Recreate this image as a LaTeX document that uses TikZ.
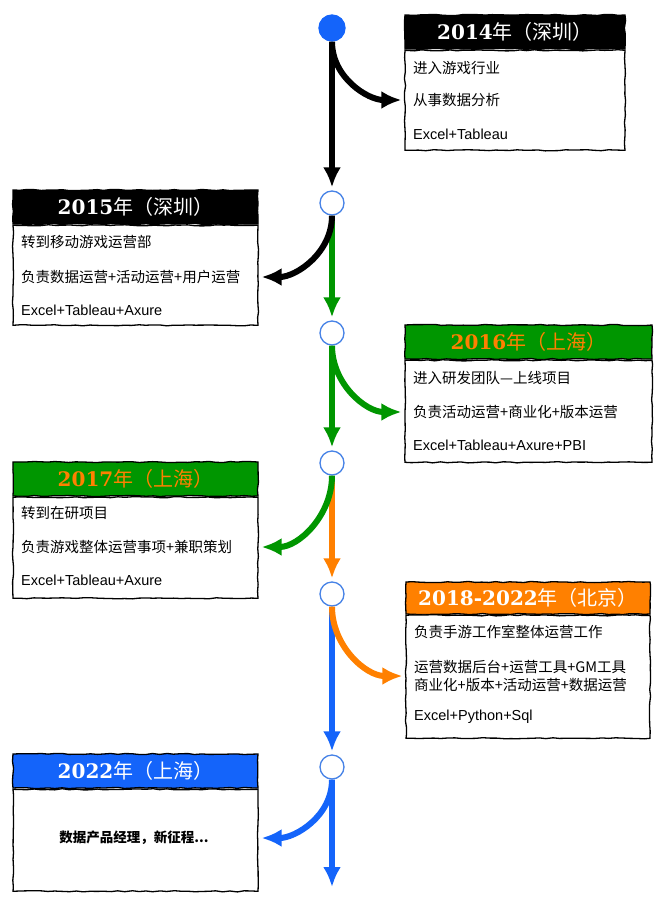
\documentclass[tikz,border=0pt]{standalone}
\usepackage{fontspec}
\setmainfont{Liberation Sans}
\newfontfamily\cjk{Noto Sans CJK SC}
\newfontfamily\yr{DejaVu Serif}
\usetikzlibrary{arrows.meta,positioning,decorations.pathmorphing}

\definecolor{eragreen}{RGB}{0,150,0}
\definecolor{eraorange}{RGB}{255,128,0}
\definecolor{erablue}{RGB}{20,100,250}
\definecolor{ring}{RGB}{70,130,230}

\newcommand\yhead[2]{{\yr\bfseries\fontsize{20}{24}\selectfont #1}{\cjk\fontsize{20}{22}\selectfont #2}}

\begin{document}
\begin{tikzpicture}[x=1pt, y=-1pt,
	every node/.style={font=\cjk\fontsize{14.5}{18}\selectfont},
	>={Latex[length=20pt,width=18pt]},
	rough/.style={decorate, decoration={random steps, segment length=7pt, amplitude=0.6pt}},
	head/.style={rough, draw=black, line width=1.3pt, minimum height=34pt, inner sep=0pt, font=\relax},
	card/.style={rough, draw=black, line width=1.3pt, fill=white, inner sep=0pt},
	txt/.style={anchor=west, inner sep=0pt},
	tool/.style={txt, font=\rmfamily\fontsize{14.5}{18}\selectfont},
	dot/.style={circle, draw=ring, line width=1.3pt, fill=white, minimum size=24pt, inner sep=0pt},
	link/.style={->, line width=6pt, shorten >=3pt}]
	\pgfmathsetseed{7}
	\useasboundingbox (0,0) rectangle (666,910);
	% timeline points
	\node[dot, fill=erablue, draw=erablue, minimum size=26pt] (c1) at (332,28) {};
	\node[dot] (c2) at (332,203) {};
	\node[dot] (c3) at (332,333) {};
	\node[dot] (c4) at (332,463) {};
	\node[dot] (c5) at (332,594) {};
	\node[dot] (c6) at (332,767) {};
	\coordinate (tail) at (332,890);
	% 2014
	\node[head, fill=black, text=white, minimum width=220pt] (h14) at (515,32) {\yhead{2014}{年（深圳）}};
	\node[card, minimum width=220pt, minimum height=100pt, below=0pt of h14] (b14) {};
	\node[txt] (t14a) at (413,68) {进入游戏行业};
	\node[txt] (t14b) at (413,100) {从事数据分析};
	\node[tool] (t14c) at (413,134) {Excel+Tableau};
	% 2015
	\node[head, fill=black, text=white, minimum width=245pt] (h15) at (135.5,207) {\yhead{2015}{年（深圳）}};
	\node[card, minimum width=245pt, minimum height=100pt, below=0pt of h15] (b15) {};
	\node[txt] (t15a) at (21,242) {转到移动游戏运营部};
	\node[txt] (t15b) at (21,277) {负责数据运营+活动运营+用户运营};
	\node[tool] (t15c) at (21,310) {Excel+Tableau+Axure};
	% 2016
	\node[head, fill=eragreen, text=eraorange, minimum width=247pt] (h16) at (528.5,342) {\yhead{2016}{年（上海）}};
	\node[card, minimum width=247pt, minimum height=102pt, below=0pt of h16] (b16) {};
	\node[txt] (t16a) at (413,378) {进入研发团队—上线项目};
	\node[txt] (t16b) at (413,412) {负责活动运营+商业化+版本运营};
	\node[tool] (t16c) at (413,445) {Excel+Tableau+Axure+PBI};
	% 2017
	\node[head, fill=eragreen, text=eraorange, minimum width=245pt] (h17) at (135.5,479) {\yhead{2017}{年（上海）}};
	\node[card, minimum width=245pt, minimum height=101pt, below=0pt of h17] (b17) {};
	\node[txt] (t17a) at (21,513) {转到在研项目};
	\node[txt] (t17b) at (21,547) {负责游戏整体运营事项+兼职策划};
	\node[tool] (t17c) at (21,580) {Excel+Tableau+Axure};
	% 2018-2022
	\node[head, fill=eraorange, text=white, minimum width=244pt, minimum height=32pt] (h18) at (528,598) {\yhead{2018-2022}{年（北京）}};
	\node[card, minimum width=244pt, minimum height=123pt, below=0pt of h18] (b18) {};
	\node[txt] (t18a) at (414,632) {负责手游工作室整体运营工作};
	\node[txt, align=left] (t18b) at (414,676) {运营数据后台+运营工具+GM工具\\商业化+版本+活动运营+数据运营};
	\node[tool] (t18c) at (414,717) {Excel+Python+Sql};
	% 2022
	\node[head, fill=erablue, text=white, minimum width=245pt] (h22) at (135.5,771) {\yhead{2022}{年（上海）}};
	\node[card, minimum width=245pt, minimum height=102pt, below=0pt of h22] (b22) {};
	\node[font=\cjk\bfseries\fontsize{13.5}{16}\selectfont] (t22) at (134,838) {数据产品经理，新征程...};
	% timeline and branches
	\draw[link, black] (c1) -- (c2);
	\draw[link, black] (c1.south) to[out=-90, in=180] (b14.west |- t14b);
	\draw[link, eragreen] (c2) -- (c3);
	\draw[link, black] (c2.south) to[out=-90, in=0] (b15.east |- t15b);
	\draw[link, eragreen] (c3) -- (c4);
	\draw[link, eragreen] (c3.south) to[out=-90, in=180] (b16.west |- t16b);
	\draw[link, eraorange] (c4) -- (c5);
	\draw[link, eragreen] (c4.south) to[out=-90, in=0] (b17.east |- t17b);
	\draw[link, erablue] (c5) -- (c6);
	\draw[link, eraorange] (c5.south) to[out=-90, in=180] (b18.west |- t18b);
	\draw[link, erablue] (c6) -- (tail);
	\draw[link, erablue] (c6.south) to[out=-90, in=0] (b22.east |- t22);
\end{tikzpicture}
\end{document}
